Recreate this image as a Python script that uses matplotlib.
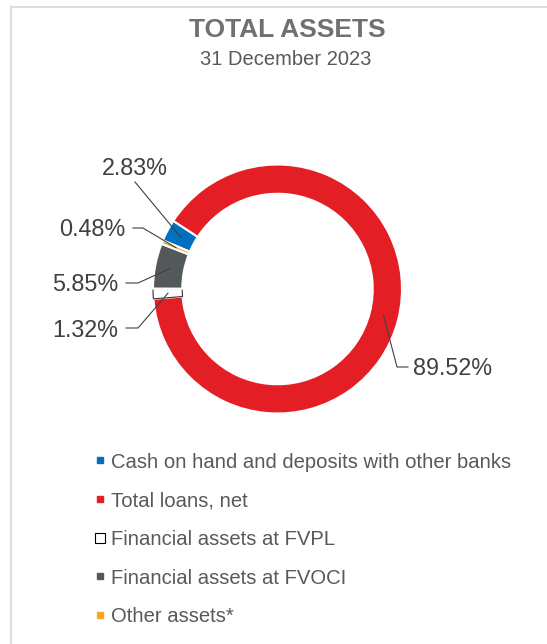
import matplotlib.pyplot as plt
import numpy as np
from matplotlib.lines import Line2D

plt.rcParams['font.family'] = ['Liberation Sans', 'DejaVu Sans']

# data
categories = ['Cash on hand and deposits with other banks', 'Total loans, net',
              'Financial assets at FVPL', 'Financial assets at FVOCI', 'Other assets*']
shares = [2.83, 89.52, 1.32, 5.85, 0.48]
colors = ['#0070C0', '#E31E24', '#FFFFFF', '#53585A', '#F6A623']

W, H = 547, 644
fig = plt.figure(figsize=(W / 100, H / 100), dpi=100)

# donut centre / radius in pixels
cx, cy, R = 277.5, 289, 124.5
ax = fig.add_axes([(cx - R) / W, (H - cy - R) / H, 2 * R / W, 2 * R / H])
wedges, _ = ax.pie(shares, colors=colors, startangle=157, counterclock=False, radius=1,
                   wedgeprops=dict(width=0.235, edgecolor='white', linewidth=1.5))
wedges[2].set_edgecolor('#333333')
wedges[2].set_linewidth(0.8)
ax.set_xlim(-1, 1)
ax.set_ylim(-1, 1)
ax.set_aspect('equal')
ax.axis('off')


def px(x, y):
    return (x - cx) / R, (cy - y) / R


# label layout in pixels: text anchor, alignment, leader points (text side first)
label_layout = {
    0: ((135, 175), 'center', [(135, 182)]),
    1: ((413, 375), 'left', [(408, 367), (397, 367)]),
    2: ((118, 337), 'right', [(126, 328), (138, 328)]),
    3: ((118, 291), 'right', [(126, 283), (138, 283)]),
    4: ((125, 236), 'right', [(133, 228), (143, 228)]),
}

for i, w in enumerate(wedges):
    (tx, ty), ha, pts = label_layout[i]
    mid = np.deg2rad((w.theta1 + w.theta2) / 2)
    tip = (0.88 * np.cos(mid), 0.88 * np.sin(mid))
    xs = [px(*p)[0] for p in pts] + [tip[0]]
    ys = [px(*p)[1] for p in pts] + [tip[1]]
    ax.plot(xs, ys, color='#404040', lw=0.8, clip_on=False, zorder=5)
    ax.text(*px(tx, ty), f'{shares[i]:.2f}%', ha=ha, va='baseline', fontsize=16.8,
            color='#404040')

fig.text(287.5 / W, 1 - 37 / H, 'TOTAL ASSETS', ha='center', va='baseline',
         fontsize=19, fontweight='bold', color='#707070')
fig.text(285.5 / W, 1 - 65 / H, '31 December 2023', ha='center', va='baseline',
         fontsize=14.5, color='#595959')

handles = []
for c in colors:
    if c == '#FFFFFF':
        handles.append(Line2D([], [], marker='s', ls='none', markersize=6.5,
                              markerfacecolor='white', markeredgecolor='black', markeredgewidth=0.8))
    else:
        handles.append(Line2D([], [], marker='s', ls='none', markersize=5,
                              markerfacecolor=c, markeredgecolor=c))
fig.legend(handles, categories, loc='upper left', bbox_to_anchor=(94.5 / W, 1 - 452.5 / H),
           frameon=False, fontsize=14.6, labelcolor='#595959', handlelength=0.5,
           handletextpad=0.32, borderpad=0, borderaxespad=0, labelspacing=0.97)

# light frame edges (chart cropped from a bordered box)
fig.add_artist(Line2D([10.5 / W, 1], [1 - 6.5 / H] * 2, transform=fig.transFigure,
                      color='#dedede', lw=1.5))
fig.add_artist(Line2D([10.5 / W] * 2, [0, 1 - 6.5 / H], transform=fig.transFigure,
                      color='#dedede', lw=1.5))

plt.savefig('out.png', dpi=100)
